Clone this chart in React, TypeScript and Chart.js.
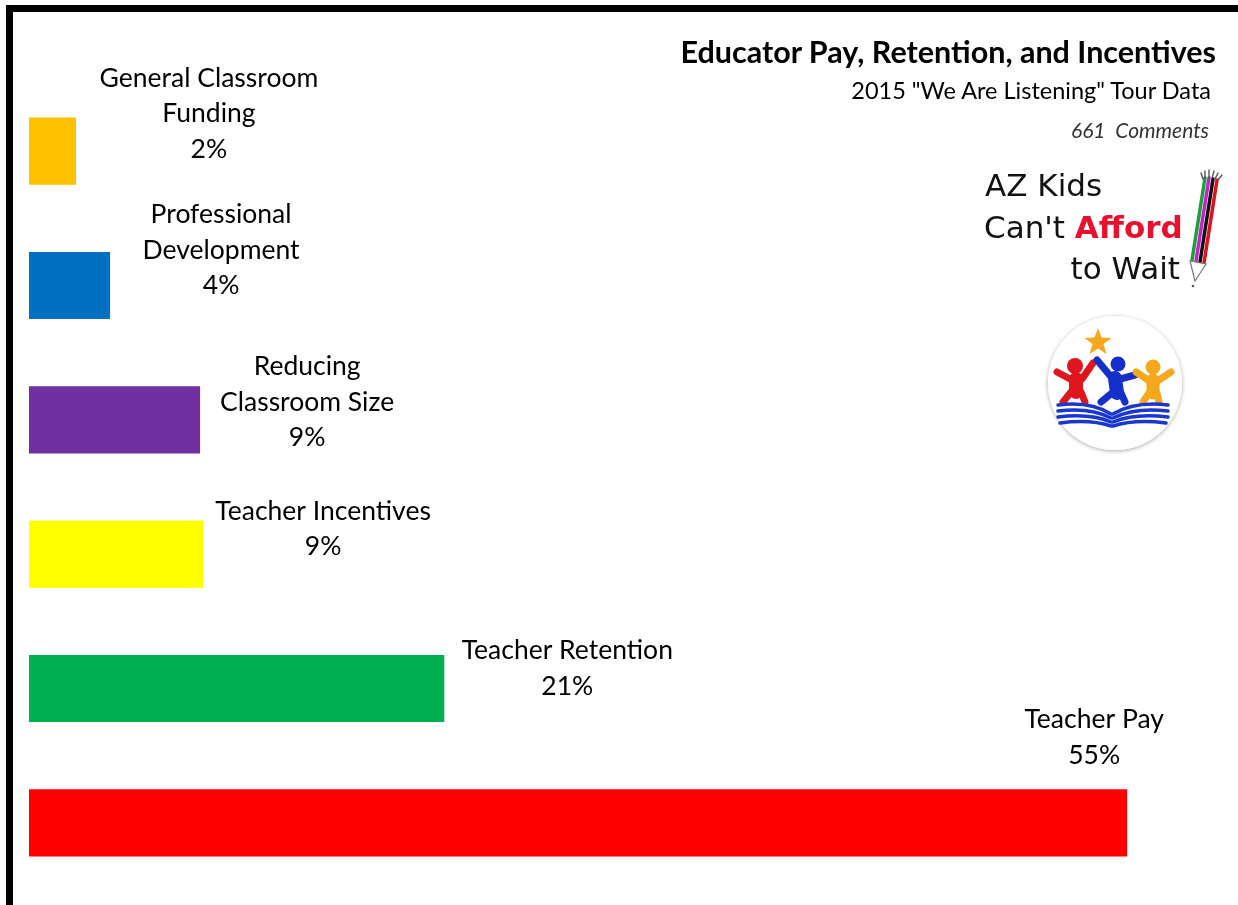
import React, { useEffect, useRef } from "react";
import { Chart, registerables } from "chart.js";

Chart.register(...registerables);

// ---- data ----
const categories: string[][] = [
  ["General Classroom", "Funding"],
  ["Professional", "Development"],
  ["Reducing", "Classroom Size"],
  ["Teacher Incentives"],
  ["Teacher Retention"],
  ["Teacher Pay"],
];
const shares: number[] = [2.35, 4.06, 8.57, 8.72, 20.8, 55.0];
const barColors: string[] = ["#FFC000", "#0070C0", "#7030A0", "#FFFF00", "#00B050", "#FF0000"];

const titleText = "Educator Pay, Retention, and Incentives";
const subtitleText = '2015 "We Are Listening" Tour Data';
const commentsText = "661  Comments";

// label placement (relative to bar end / bar centre)
const labelDx: number[] = [133, 111, 107, 120, 123, -33];
const labelDy: number[] = [-73, -71, -53, -43, -38, -103];
const LINE_H = 35.5;
const LABEL_FONT = "26.5px Lato, 'Open Sans', sans-serif";

const barLabelPlugin = {
  id: "barLabels",
  afterDatasetsDraw(chart: any) {
    const ctx = chart.ctx;
    const meta = chart.getDatasetMeta(0);
    ctx.save();
    ctx.font = LABEL_FONT;
    ctx.fillStyle = "#000";
    ctx.textAlign = "center";
    ctx.textBaseline = "middle";
    meta.data.forEach((bar: any, i: number) => {
      const lines = [...categories[i], Math.round(shares[i]) + "%"];
      const cx = bar.x + labelDx[i];
      const y0 = bar.y + labelDy[i];
      lines.forEach((t, k) => ctx.fillText(t, cx, y0 + k * LINE_H));
    });
    ctx.restore();
  },
};

function Logo() {
  return (
    <svg
      width={268}
      height={300}
      viewBox="0 0 268 300"
      style={{ position: "absolute", left: 970, top: 160 }}
    >
      <defs>
        <filter id="sh" x="-20%" y="-20%" width="140%" height="140%">
          <feGaussianBlur in="SourceAlpha" stdDeviation="2" />
          <feOffset dx="0" dy="1" />
          <feComponentTransfer>
            <feFuncA type="linear" slope="0.35" />
          </feComponentTransfer>
          <feMerge>
            <feMergeNode />
            <feMergeNode in="SourceGraphic" />
          </feMerge>
        </filter>
      </defs>
      <g fontFamily="'DejaVu Sans', sans-serif" fontSize="31">
        <text x={15} y={36} fill="#111">AZ Kids</text>
        <text x={14} y={78} fill="#111">
          Can't <tspan fill="#E8112D" fontWeight="bold">Afford</tspan>
        </text>
        <text x={210} y={119} fill="#111" textAnchor="end">to Wait</text>
      </g>
      {/* pencil */}
      <g strokeLinecap="round">
        <line x1={235} y1={18} x2={222} y2={100} stroke="#1E9E3A" strokeWidth={3.5} />
        <line x1={239} y1={18} x2={226} y2={101} stroke="#C025C8" strokeWidth={3.5} />
        <line x1={243} y1={19} x2={230} y2={102} stroke="#111" strokeWidth={3.5} />
        <line x1={247} y1={20} x2={234} y2={103} stroke="#E01020" strokeWidth={3.5} />
        <path d="M220 101 L236 104 L225 121 Z" fill="#fff" stroke="#777" strokeWidth={1.2} />
        <path
          d="M233 19 l-2 -6 M235 18 l0 -7 M239 18 l0 -8 M242 18 l2 -7 M245 19 l3 -6 M248 20 l4 -5"
          stroke="#555"
          strokeWidth={1.4}
        />
        <circle cx={223} cy={126} r={1.3} fill="#555" />
      </g>
      {/* circle emblem */}
      <circle cx={145} cy={223} r={67} fill="#fff" filter="url(#sh)" />
      <polygon
        points="128,168 131.5,177.5 141.5,178 133.5,184 136.5,194 128,188.5 119.5,194 122.5,184 114.5,178 124.5,177.5"
        fill="#F5A81C"
      />
      <g strokeLinecap="round" strokeLinejoin="round" fill="none">
        {/* red */}
        <circle cx={105} cy={206} r={8} fill="#E0161E" stroke="none" />
        <path d="M87 212 L100 219 L112 219 L123 203" stroke="#E0161E" strokeWidth={7} />
        <path d="M106 219 L106 232" stroke="#E0161E" strokeWidth={14} />
        <path d="M101 232 L93 242 M111 232 L115 242" stroke="#E0161E" strokeWidth={7} />
        {/* blue */}
        <circle cx={148} cy={204} r={7.5} fill="#1530C8" stroke="none" />
        <path d="M127 200 L142 218 M150 219 L165 215" stroke="#1530C8" strokeWidth={7} />
        <path d="M145 218 L147 233" stroke="#1530C8" strokeWidth={14} />
        <path d="M142 233 L131 242 M151 233 L155 242" stroke="#1530C8" strokeWidth={7} />
        {/* yellow */}
        <circle cx={183} cy={207} r={7.5} fill="#F5A81C" stroke="none" />
        <path d="M166 212 L178 220 L189 220 L201 212" stroke="#F5A81C" strokeWidth={7} />
        <path d="M183 220 L183 233" stroke="#F5A81C" strokeWidth={13} />
        <path d="M179 233 L173 242 M187 233 L189 242" stroke="#F5A81C" strokeWidth={7} />
        {/* book */}
        <g stroke="#1A36D0" strokeWidth={3.5}>
          <path d="M88 245 Q120 241 141 254" />
          <path d="M88 251 Q120 247 141 258" />
          <path d="M88 257 Q120 253 141 262" />
          <path d="M90 263 Q120 259 141 266" />
          <path d="M198 245 Q165 241 143 254" />
          <path d="M198 251 Q165 247 143 258" />
          <path d="M198 257 Q165 253 143 262" />
          <path d="M196 263 Q165 259 143 266" />
        </g>
      </g>
    </svg>
  );
}

export default function App() {
  const canvasRef = useRef<HTMLCanvasElement | null>(null);

  useEffect(() => {
    if (!canvasRef.current) return;
    const chart = new Chart(canvasRef.current, {
      type: "bar",
      data: {
        labels: categories,
        datasets: [
          {
            data: shares,
            backgroundColor: barColors,
            borderWidth: 0,
            barPercentage: 0.5,
            categoryPercentage: 1,
          },
        ],
      },
      options: {
        indexAxis: "y",
        responsive: false,
        animation: false,
        layout: { padding: { left: 29, right: 11, top: 84, bottom: 15 } },
        plugins: { legend: { display: false }, tooltip: { enabled: false } },
        scales: {
          x: { display: false, min: 0, max: 60 },
          y: { display: false },
        },
      },
      plugins: [barLabelPlugin],
    });
    return () => chart.destroy();
  }, []);

  return (
    <div
      style={{
        position: "fixed",
        left: 0,
        top: 0,
        width: 1238,
        height: 905,
        background: "#fff",
        overflow: "hidden",
        fontFamily: "Lato, 'Open Sans', sans-serif",
      }}
    >
      <canvas ref={canvasRef} width={1238} height={905} style={{ position: "absolute", left: 0, top: 0 }} />
      <div
        style={{
          position: "absolute",
          left: 6,
          top: 5,
          width: 1300,
          height: 1000,
          borderTop: "7px solid #000",
          borderLeft: "7px solid #000",
          pointerEvents: "none",
        }}
      />
      <div style={{ position: "absolute", right: 22, top: 34, fontSize: 30.5, lineHeight: "34px", fontWeight: 700, color: "#000", whiteSpace: "pre" }}>
        {titleText}
      </div>
      <div style={{ position: "absolute", right: 27, top: 76, fontSize: 23.5, lineHeight: "28px", color: "#000", whiteSpace: "pre" }}>
        {subtitleText}
      </div>
      <div style={{ position: "absolute", right: 29, top: 117, fontSize: 21, lineHeight: "26px", fontStyle: "italic", color: "#333", whiteSpace: "pre" }}>
        {commentsText}
      </div>
      <Logo />
    </div>
  );
}
